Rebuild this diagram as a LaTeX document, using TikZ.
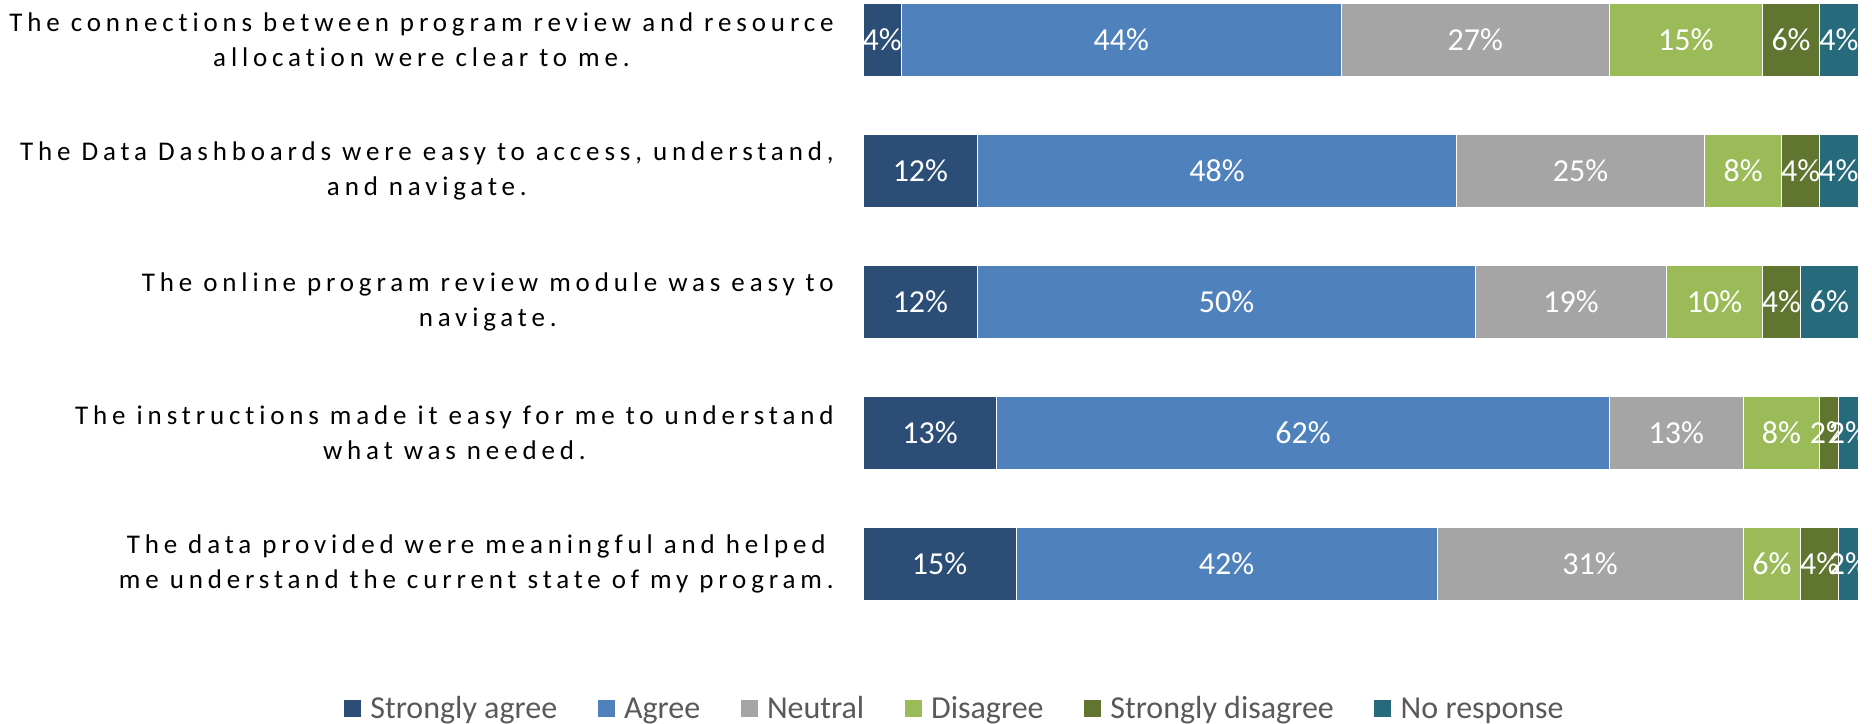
\documentclass[tikz,border=0pt]{standalone}
\usepackage{fontspec}
\setmainfont{Carlito}
\newfontfamily\spaced[LetterSpace=18, Ligatures=NoCommon]{Carlito}
\usetikzlibrary{positioning}
\definecolor{sagree}{HTML}{2C4D75}
\definecolor{agree}{HTML}{4F81BD}
\definecolor{neutral}{HTML}{A5A5A5}
\definecolor{disagree}{HTML}{9BBB59}
\definecolor{sdisagree}{HTML}{5F7530}
\definecolor{noresp}{HTML}{276A7C}
\definecolor{legtext}{HTML}{595959}
\tikzset{
  seg/.style={draw=white, line width=0.5pt, minimum height=36.5pt, inner sep=0pt, outer sep=0pt, anchor=west},
  pct/.style={text=white, font=\fontsize{16}{19}\selectfont, inner sep=0pt},
  sa/.style 2 args={seg, fill=sagree, minimum width=#1*9.5673pt, label={[pct]center:#2\%}},
  ag/.style 2 args={seg, fill=agree, minimum width=#1*9.5673pt, label={[pct]center:#2\%}},
  ne/.style 2 args={seg, fill=neutral, minimum width=#1*9.5673pt, label={[pct]center:#2\%}},
  di/.style 2 args={seg, fill=disagree, minimum width=#1*9.5673pt, label={[pct]center:#2\%}},
  sd/.style 2 args={seg, fill=sdisagree, minimum width=#1*9.5673pt, label={[pct]center:#2\%}},
  nr/.style 2 args={seg, fill=noresp, minimum width=#1*9.5673pt, label={[pct]center:#2\%}},
  question/.style={anchor=east, align=center, inner sep=0pt, font=\spaced\fontsize{13.5}{17.5}\selectfont},
  key/.style={minimum size=8.5pt, inner sep=0pt, outer sep=0pt, anchor=west},
  keytext/.style={text=legtext, inner sep=0pt, text height=10.3pt, text depth=0pt, font=\fontsize{16}{19}\selectfont}
}
\begin{document}
\begin{tikzpicture}[x=0.5pt,y=-0.5pt]%
\useasboundingbox (0,0) rectangle (1872,723); %%
% questions
\node[question] (q1) at (834,40) {The connections between program review and resource\\allocation were clear to me.}; %%
\node[question] (q2) at (834,171) {The Data Dashboards were easy to access, understand,\\and navigate.}; %%
\node[question] (q3) at (834,302) {The online program review module was easy to\\navigate.}; %%
\node[question] (q4) at (834,433) {The instructions made it easy for me to understand\\what was needed.}; %%
\node[question] (q5) at (834,564) {The data provided were meaningful and helped\\me understand the current state of my program.}; %%
% bars
\node[sa={2}{4}] (sa1) at (863,40) {}; %%
\node[ag={23}{44}, right=0pt of sa1] (ag1) {}; %%
\node[ne={14}{27}, right=0pt of ag1] (ne1) {}; %%
\node[di={8}{15}, right=0pt of ne1] (di1) {}; %%
\node[sd={3}{6}, right=0pt of di1] (sd1) {}; %%
\node[nr={2}{4}, right=0pt of sd1] (nr1) {}; %%
\node[sa={6}{12}] (sa2) at (863,171) {}; %%
\node[ag={25}{48}, right=0pt of sa2] (ag2) {}; %%
\node[ne={13}{25}, right=0pt of ag2] (ne2) {}; %%
\node[di={4}{8}, right=0pt of ne2] (di2) {}; %%
\node[sd={2}{4}, right=0pt of di2] (sd2) {}; %%
\node[nr={2}{4}, right=0pt of sd2] (nr2) {}; %%
\node[sa={6}{12}] (sa3) at (863,302) {}; %%
\node[ag={26}{50}, right=0pt of sa3] (ag3) {}; %%
\node[ne={10}{19}, right=0pt of ag3] (ne3) {}; %%
\node[di={5}{10}, right=0pt of ne3] (di3) {}; %%
\node[sd={2}{4}, right=0pt of di3] (sd3) {}; %%
\node[nr={3}{6}, right=0pt of sd3] (nr3) {}; %%
\node[sa={7}{13}] (sa4) at (863,433) {}; %%
\node[ag={32}{62}, right=0pt of sa4] (ag4) {}; %%
\node[ne={7}{13}, right=0pt of ag4] (ne4) {}; %%
\node[di={4}{8}, right=0pt of ne4] (di4) {}; %%
\node[sd={1}{2}, right=0pt of di4] (sd4) {}; %%
\node[nr={1}{2}, right=0pt of sd4] (nr4) {}; %%
\node[sa={8}{15}] (sa5) at (863,564) {}; %%
\node[ag={22}{42}, right=0pt of sa5] (ag5) {}; %%
\node[ne={16}{31}, right=0pt of ag5] (ne5) {}; %%
\node[di={3}{6}, right=0pt of ne5] (di5) {}; %%
\node[sd={2}{4}, right=0pt of di5] (sd5) {}; %%
\node[nr={1}{2}, right=0pt of sd5] (nr5) {}; %%
% legend
\node[key, fill=sagree] (k1) at (344,708) {}; %%
\node[keytext, right=4.5pt of k1] (t1) {Strongly agree}; %%
\node[key, fill=agree, right=20pt of t1] (k2) {}; %%
\node[keytext, right=4.5pt of k2] (t2) {Agree}; %%
\node[key, fill=neutral, right=20pt of t2] (k3) {}; %%
\node[keytext, right=4.5pt of k3] (t3) {Neutral}; %%
\node[key, fill=disagree, right=20pt of t3] (k4) {}; %%
\node[keytext, right=4.5pt of k4] (t4) {Disagree}; %%
\node[key, fill=sdisagree, right=20pt of t4] (k5) {}; %%
\node[keytext, right=4.5pt of k5] (t5) {Strongly disagree}; %%
\node[key, fill=noresp, right=20pt of t5] (k6) {}; %%
\node[keytext, right=4.5pt of k6] (t6) {No response}; %%
\end{tikzpicture}
\end{document}
